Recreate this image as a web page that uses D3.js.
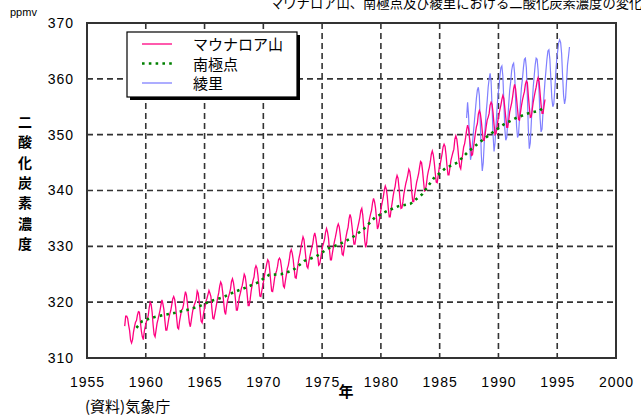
<!DOCTYPE html>
<html>
<head>
<meta charset="utf-8">
<script src="https://cdn.jsdelivr.net/npm/d3@7"></script>
<style>
  body { margin: 0; background: #fff; }
  svg { display: block; }
</style>
</head>
<body>
<div class="chart"></div>
<script>
// monthly values, Mauna Loa, from March 1958
var maunaLoaStart = [1958, 3];
var maunaLoa = [
  315.7, 317.5, 317.5, 317.1, 315.9, 314.9, 313.2, 312.7, 313.3, 314.7,
  315.6, 316.4, 316.7, 317.7, 318.3, 318.2, 316.5, 314.8, 313.8, 313.3, 314.8, 315.6,
  316.4, 317.0, 317.6, 319.0, 320.0, 319.6, 318.2, 315.9, 314.2, 313.8, 315.0, 316.2,
  316.9, 317.7, 318.5, 319.5, 320.4, 319.7, 318.7, 316.7, 315.0, 315.0, 316.0, 317.1,
  317.9, 318.5, 319.5, 320.6, 321.0, 320.5, 319.1, 317.2, 315.4, 315.2, 316.6, 317.6,
  318.6, 318.8, 319.5, 320.9, 321.9, 321.3, 319.8, 317.8, 316.3, 315.6, 316.8, 318.0,
  319.0, 319.5, 320.0, 320.5, 322.0, 321.6, 320.2, 318.4, 316.6, 316.3, 317.4, 318.5,
  319.3, 320.2, 320.7, 321.4, 322.1, 321.6, 321.0, 318.8, 317.1, 317.0, 317.9, 318.9,
  319.9, 320.9, 321.7, 322.9, 323.6, 323.2, 321.8, 320.0, 318.3, 317.8, 319.3, 320.3,
  321.0, 321.6, 322.4, 323.7, 324.2, 323.5, 322.2, 320.6, 318.6, 318.6, 319.7, 320.9,
  321.6, 322.4, 323.0, 324.0, 325.0, 324.6, 323.3, 321.4, 319.4, 319.4, 320.4, 321.9,
  323.0, 323.9, 324.5, 326.0, 326.5, 326.1, 324.8, 322.9, 321.1, 321.0, 322.1, 323.0,
  324.0, 325.1, 326.0, 326.9, 327.6, 327.3, 325.8, 323.8, 322.0, 321.9, 323.0, 324.3,
  325.1, 325.6, 326.4, 327.6, 327.9, 327.5, 326.3, 324.7, 322.9, 322.6, 323.8, 324.9,
  326.0, 326.6, 327.6, 328.9, 329.4, 328.8, 327.6, 325.9, 324.4, 324.3, 325.6, 326.9,
  328.0, 328.8, 329.9, 330.9, 331.7, 331.2, 329.5, 327.8, 326.4, 326.1, 327.2, 328.2,
  329.0, 329.8, 330.5, 331.8, 332.4, 331.6, 330.3, 328.4, 326.6, 326.8, 327.8, 328.9,
  330.0, 330.6, 331.3, 332.5, 333.2, 332.6, 331.5, 329.4, 327.6, 327.6, 328.8, 329.8,
  330.8, 331.6, 332.5, 333.5, 334.0, 333.5, 332.1, 330.2, 328.6, 328.4, 329.6, 330.8,
  331.8, 332.7, 333.4, 334.9, 335.7, 335.1, 333.6, 331.9, 330.4, 330.4, 331.6, 332.7,
  333.5, 334.3, 335.2, 336.4, 336.8, 335.6, 333.4, 331.0, 329.8, 330.6, 332.6, 334.1,
  335.0, 335.8, 336.5, 337.8, 338.6, 338.0, 336.9, 335.0, 333.1, 333.6, 334.7, 335.9,
  337.1, 338.0, 338.9, 340.1, 340.8, 340.3, 339.0, 336.9, 335.3, 335.3, 336.7, 337.8,
  339.0, 340.0, 340.7, 342.0, 342.7, 342.2, 340.5, 338.5, 336.8, 336.9, 338.0, 339.4,
  340.4, 341.3, 342.0, 342.8, 343.8, 343.4, 342.1, 339.8, 338.0, 338.0, 339.3, 340.4,
  341.5, 342.2, 343.0, 344.2, 345.2, 345.0, 343.6, 341.7, 339.9, 340.0, 341.2, 342.6,
  343.5, 344.2, 345.2, 346.5, 347.1, 346.4, 345.0, 343.1, 341.5, 341.4, 342.7, 344.0,
  344.7, 345.6, 346.6, 347.8, 348.3, 347.9, 346.4, 344.4, 342.8, 342.8, 344.1, 345.4,
  346.1, 346.8, 347.4, 349.2, 349.8, 349.2, 347.7, 345.7, 344.3, 343.9, 345.3, 346.5,
  347.8, 348.4, 349.5, 350.8, 351.7, 351.1, 349.4, 347.9, 346.3, 346.4, 347.7, 349.0,
  350.3, 351.4, 352.0, 353.7, 354.3, 353.8, 352.5, 350.6, 349.0, 349.0, 350.2, 351.5,
  352.6, 353.1, 353.8, 355.3, 355.8, 355.4, 353.9, 351.8, 350.0, 350.2, 351.4, 352.6,
  353.6, 354.5, 355.3, 356.3, 357.0, 356.5, 354.8, 353.0, 351.3, 351.3, 352.6, 354.1,
  354.9, 355.7, 356.8, 358.2, 359.0, 358.2, 356.4, 354.5, 352.7, 352.6, 354.0, 355.2,
  356.2, 357.0, 357.7, 359.0, 359.6, 359.3, 357.0, 355.0, 353.1, 353.2, 354.5, 355.8,
  356.8, 357.7, 358.5, 359.6, 360.2, 359.5, 357.4, 355.4, 353.8, 353.8, 355.1, 356.3
];

// South Pole
var southPoleYears = [
  1959.2, 1959.7, 1960.5, 1961.5, 1962.5, 1963.5, 1964.5, 1965.5, 1966.5, 1967.5,
  1968.5, 1969.5, 1970.5, 1971.5, 1972.5, 1973.5, 1974.5, 1975.5, 1976.5, 1977.5,
  1978.5, 1979.5, 1980.5, 1981.5, 1982.5, 1983.5, 1984.5, 1985.5, 1986.5, 1987.5,
  1988.5, 1989.5, 1990.5, 1991.5, 1992.5, 1993.5, 1993.9
];
var southPole = [
  315.4, 316.6, 317.2, 317.7, 318.1, 318.6, 319.2, 320.2, 320.8, 321.8,
  322.6, 323.5, 324.9, 325.0, 325.7, 327.4, 328.2, 329.6, 330.4, 331.5,
  333.0, 335.2, 336.3, 337.2, 337.6, 339.3, 342.2, 344.0, 345.0, 347.1,
  348.8, 350.4, 351.9, 353.0, 353.8, 354.3, 355.0
];

// Ryori, monthly from April 1987
var ryoriStart = [1987, 4];
var ryori = [
  353.0, 355.8, 353.5, 349.0, 345.5, 346.5, 348.5, 350.5, 352.5,
  354.5, 356.5, 358.0, 358.5, 357.0, 352.0, 346.5, 343.5, 345.0, 348.5, 351.5, 354.0,
  356.0, 358.5, 360.0, 361.0, 359.5, 355.0, 350.0, 347.0, 348.5, 351.5, 354.5, 357.0,
  358.5, 360.5, 362.0, 362.3, 360.5, 356.0, 351.0, 349.0, 349.5, 352.5, 355.5, 358.0,
  359.5, 361.5, 362.5, 362.8, 361.0, 356.5, 351.5, 349.5, 350.0, 353.0, 356.0, 358.5,
  360.0, 362.0, 363.5, 363.7, 362.0, 357.0, 351.0, 347.5, 348.5, 352.0, 355.5, 358.5,
  360.5, 362.5, 363.7, 363.5, 361.5, 357.5, 353.0, 350.5, 351.0, 354.0, 357.0, 359.5,
  361.5, 363.5, 365.0, 365.2, 363.5, 360.0, 356.5, 355.0, 355.5, 358.0, 361.0, 363.5,
  365.0, 366.5, 367.0, 366.5, 364.5, 360.5, 357.0, 355.5, 356.5, 359.5, 362.5, 364.0,
  365.7
];

var xTicks = [1955, 1960, 1965, 1970, 1975, 1980, 1985, 1990, 1995, 2000];
var yTicks = [310, 320, 330, 340, 350, 360, 370];
var seriesNames = ["マウナロア山", "南極点", "綾里"];
var seriesColors = ["#ff0080", "#008000", "#8080ff"];

var width = 641, height = 415;
var margin = { top: 23, right: 25, bottom: 57, left: 87 };

var x = d3.scaleLinear().domain([1955, 2000]).range([margin.left, width - margin.right]);
var y = d3.scaleLinear().domain([310, 370]).range([height - margin.bottom, margin.top]);

function monthly(start, values) {
  return values.map(function (v, i) {
    return { t: start[0] + (start[1] - 1 + i + 0.5) / 12, v: v };
  });
}

var svg = d3
  .select(".chart")
  .append("svg")
  .attr("width", width)
  .attr("height", height)
  .style("font-family", "'Liberation Sans', Arial, sans-serif");

var jp = "'Noto Sans CJK JP', 'Noto Sans', sans-serif";

// title, cut at the top edge like the source
svg
  .append("text")
  .attr("x", 270)
  .attr("y", 8)
  .style("font-family", jp)
  .style("font-size", "13.3px")
  .text("マウナロア山、南極点及び綾里における二酸化炭素濃度の変化");

// grid
svg
  .selectAll(".vgrid")
  .data(xTicks.slice(1, -1))
  .enter()
  .append("line")
  .attr("x1", function (d) { return x(d); })
  .attr("x2", function (d) { return x(d); })
  .attr("y1", y(370))
  .attr("y2", y(310))
  .style("stroke", "#333")
  .style("stroke-width", 1.6)
  .style("stroke-dasharray", "6,4");

svg
  .selectAll(".hgrid")
  .data(yTicks.slice(1, -1))
  .enter()
  .append("line")
  .attr("x1", x(1955))
  .attr("x2", x(2000))
  .attr("y1", function (d) { return y(d); })
  .attr("y2", function (d) { return y(d); })
  .style("stroke", "#333")
  .style("stroke-width", 1.6)
  .style("stroke-dasharray", "6,4");

var line = d3
  .line()
  .x(function (d) { return x(d.t); })
  .y(function (d) { return y(d.v); });

svg
  .append("path")
  .attr("d", line(monthly(ryoriStart, ryori)))
  .style("fill", "none")
  .style("stroke", seriesColors[2])
  .style("stroke-width", 1.2);

svg
  .append("path")
  .attr("d", line(monthly(maunaLoaStart, maunaLoa)))
  .style("fill", "none")
  .style("stroke", seriesColors[0])
  .style("stroke-width", 1.3);

svg
  .append("path")
  .attr("d", line(southPoleYears.map(function (t, i) { return { t: t, v: southPole[i] }; })))
  .style("fill", "none")
  .style("stroke", seriesColors[1])
  .style("stroke-width", 2.6)
  .style("stroke-dasharray", "2.6,4.2");

// legend
var legend = svg.append("g").attr("transform", "translate(127,32)");
legend.append("rect").attr("x", 3).attr("y", 3).attr("width", 170).attr("height", 65).style("fill", "#000");
legend
  .append("rect")
  .attr("width", 170)
  .attr("height", 65)
  .style("fill", "#fff")
  .style("stroke", "#000")
  .style("stroke-width", 1.2);

var items = legend
  .selectAll(".item")
  .data(seriesNames)
  .enter()
  .append("g")
  .attr("transform", function (d, i) { return "translate(0," + (12 + i * 19.5) + ")"; });

items
  .append("line")
  .attr("x1", 15)
  .attr("x2", 45)
  .style("stroke", function (d, i) { return seriesColors[i]; })
  .style("stroke-width", function (d, i) { return i === 1 ? 2.6 : 1.3; })
  .style("stroke-dasharray", function (d, i) { return i === 1 ? "2.6,4.2" : null; });

items
  .append("text")
  .attr("x", 66)
  .attr("y", 6)
  .style("font-family", jp)
  .style("font-size", "15px")
  .text(function (d) { return d; });

// axes labels
var yAxis = svg
  .append("g")
  .attr("transform", "translate(" + margin.left + ",0)")
  .call(d3.axisLeft(y).tickValues(yTicks).tickSize(0).tickPadding(13));
yAxis.select(".domain").remove();
yAxis.selectAll("text").style("font-size", "14px").style("letter-spacing", "1px").style("fill", "#000");

var xAxis = svg
  .append("g")
  .attr("transform", "translate(0," + (height - margin.bottom) + ")")
  .call(d3.axisBottom(x).tickValues(xTicks).tickFormat(d3.format("d")).tickSize(0).tickPadding(19));
xAxis.select(".domain").remove();
xAxis.selectAll("text").style("font-size", "14px").style("letter-spacing", "1px").style("fill", "#000");

// frame
svg
  .append("rect")
  .attr("x", x(1955))
  .attr("y", y(370))
  .attr("width", x(2000) - x(1955))
  .attr("height", y(310) - y(370))
  .style("fill", "none")
  .style("stroke", "#333")
  .style("stroke-width", 2);

svg.append("text").attr("x", 10).attr("y", 16).style("font-size", "11px").text("ppmv");

svg
  .append("g")
  .selectAll("text")
  .data("二酸化炭素濃度".split(""))
  .enter()
  .append("text")
  .attr("x", 25)
  .attr("y", function (d, i) { return 127 + i * 20.3; })
  .attr("text-anchor", "middle")
  .style("font-family", jp)
  .style("font-size", "14px")
  .style("font-weight", "bold")
  .text(function (d) { return d; });

svg
  .append("text")
  .attr("x", 346)
  .attr("y", 397)
  .attr("text-anchor", "middle")
  .style("font-family", jp)
  .style("font-size", "15px")
  .style("font-weight", "bold")
  .text("年");

svg
  .append("text")
  .attr("x", 85)
  .attr("y", 412)
  .style("font-family", jp)
  .style("font-size", "15px")
  .text("(資料)気象庁");
</script>
</body>
</html>
